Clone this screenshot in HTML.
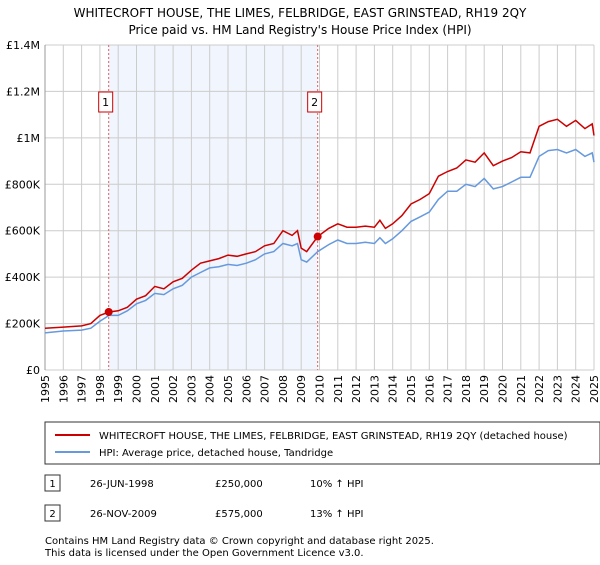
<!DOCTYPE html>
<html><head><meta charset="utf-8"><style>
body{margin:0;width:600px;height:560px;background:#fff;font-family:"Liberation Sans","DejaVu Sans",sans-serif;overflow:hidden}
svg text{font-family:"DejaVu Sans","Liberation Sans",sans-serif}
</style></head><body>
<svg id="c" width="600" height="560">
<text x="300" y="17" text-anchor="middle" font-size="12">WHITECROFT HOUSE, THE LIMES, FELBRIDGE, EAST GRINSTEAD, RH19 2QY</text>
<text x="300" y="34" text-anchor="middle" font-size="12">Price paid vs. HM Land Registry's House Price Index (HPI)</text>
<g id="plot"></g>
<rect x="45" y="422" width="555" height="42" fill="#fff" stroke="#333"/>
<line x1="55" y1="435" x2="90" y2="435" stroke="#cc0000" stroke-width="2"/>
<text x="99" y="439" font-size="10">WHITECROFT HOUSE, THE LIMES, FELBRIDGE, EAST GRINSTEAD, RH19 2QY (detached house)</text>
<line x1="55" y1="452" x2="90" y2="452" stroke="#6699dd" stroke-width="2"/>
<text x="99" y="456" font-size="10">HPI: Average price, detached house, Tandridge</text>
<g>
<rect x="45" y="475" width="15" height="16" fill="#fff" stroke="#333"/><text x="52.5" y="487" font-size="10" text-anchor="middle">1</text>
<text x="90" y="487" font-size="10">26-JUN-1998</text><text x="215" y="487" font-size="10">£250,000</text><text x="310" y="487" font-size="10">10% ↑ HPI</text></g>
<g>
<rect x="45" y="505" width="15" height="16" fill="#fff" stroke="#333"/><text x="52.5" y="517" font-size="10" text-anchor="middle">2</text>
<text x="90" y="517" font-size="10">26-NOV-2009</text><text x="215" y="517" font-size="10">£575,000</text><text x="310" y="517" font-size="10">13% ↑ HPI</text></g>
<text x="45" y="544" font-size="10">Contains HM Land Registry data © Crown copyright and database right 2025.</text>
<text x="45" y="556" font-size="10">This data is licensed under the Open Government Licence v3.0.</text>
</svg>
<script>
const yTicks=[0,200000,400000,600000,800000,1000000,1200000,1400000];
const yTickLabels=["£0","£200K","£400K","£600K","£800K","£1M","£1.2M","£1.4M"];
const years=[1995,1996,1997,1998,1999,2000,2001,2002,2003,2004,2005,2006,2007,2008,2009,2010,2011,2012,2013,2014,2015,2016,2017,2018,2019,2020,2021,2022,2023,2024,2025];
const tDates=[1995,1996,1997,1997.5,1998,1998.5,1999,1999.5,2000,2000.5,2001,2001.5,2002,2002.5,2003,2003.5,2004,2004.5,2005,2005.5,2006,2006.5,2007,2007.5,2008,2008.5,2008.8,2009,2009.3,2009.9,2010.5,2011,2011.5,2012,2012.5,2013,2013.3,2013.6,2014,2014.5,2015,2015.5,2016,2016.5,2017,2017.5,2018,2018.5,2019,2019.5,2020,2020.5,2021,2021.5,2022,2022.5,2023,2023.5,2024,2024.5,2024.9,2025];
const hpiValues=[160,168,172,180,210,235,235,255,285,300,330,325,350,365,400,420,440,445,455,450,460,475,500,510,545,535,545,475,465,510,540,560,545,545,550,545,570,545,565,600,640,660,680,735,770,770,800,790,825,780,790,810,830,830,920,945,950,935,950,920,935,895].map(v=>v*1000);
const propValues=[180,185,190,200,235,250,255,270,305,320,360,350,380,395,430,460,470,480,495,490,500,510,535,545,600,580,600,525,510,575,610,630,615,615,620,615,645,610,630,665,715,735,760,835,855,870,905,895,935,880,900,915,940,935,1050,1070,1080,1050,1075,1040,1060,1010].map(v=>v*1000);
const saleDates=[1998.48,2009.9];
const salePrices=[250000,575000];
const saleLabels=["1","2"];
const NS="http://www.w3.org/2000/svg";
const X0=45,X1=594,Y0=370,Y1=45;
const xs=t=>X0+(t-1995)/(2025-1995)*(X1-X0);
const ys=v=>Y0-v/1400000*(Y0-Y1);
const g=document.getElementById('plot');
function mk(tag,a){const e=document.createElementNS(NS,tag);for(const k in a)e.setAttribute(k,a[k]);g.appendChild(e);return e;}
let sh=mk('rect',{x:xs(saleDates[0]),y:Y1,width:xs(saleDates[1])-xs(saleDates[0]),height:Y0-Y1,fill:'#eef3fd',opacity:0.8});


years.forEach((yr,i)=>{
 let l=mk('line',{x1:xs(yr),x2:xs(yr),y1:Y1,y2:Y0,stroke:'#cccccc','stroke-width':1});
 
 
 let x=xs(yr);
 let t=mk('text',{x:x+4,y:Y0+5,'font-size':11,transform:`rotate(-90 ${x+4} ${Y0+5})`,'text-anchor':'end'});
 t.textContent=yr;
 
 
});
yTicks.forEach((v,i)=>{
 let l=mk('line',{x1:X0,x2:X1,y1:ys(v),y2:ys(v),stroke:'#cccccc','stroke-width':1});
 
 
 let t=mk('text',{x:X0-5,y:ys(v)+4,'font-size':11,'text-anchor':'end'});
 t.textContent=yTickLabels[i];
 
 
});
let ax=mk('line',{x1:X0,x2:X0,y1:Y1,y2:Y0,stroke:'#999'});


saleDates.forEach((d,i)=>{
 let l=mk('line',{x1:xs(d),x2:xs(d),y1:Y1,y2:Y0,stroke:'#e06060','stroke-dasharray':'2,2','stroke-width':1});
 
 
 let bx=xs(d)-6-(i==0?3:3);
 let r=mk('rect',{x:bx-1,y:92,width:14,height:20,fill:'#fff',stroke:'#cc0000'});
 
 
 let t=mk('text',{x:bx+6,y:106,'font-size':11,'text-anchor':'middle'});
 t.textContent=saleLabels[i];
 
 
});
function line(vals,col,name){
 let d=tDates.map((t,i)=>(i?'L':'M')+xs(t).toFixed(1)+','+ys(vals[i]).toFixed(1)).join('');
 let p=mk('path',{d:d,fill:'none',stroke:col,'stroke-width':1.5});
 
 
}
line(hpiValues,'#6699dd','hpi-line');
line(propValues,'#cc0000','property-line');
saleDates.forEach((d,i)=>{
 let c=mk('circle',{cx:xs(d),cy:ys(salePrices[i]),r:4,fill:'#cc0000'});
 
 
});
</script>
</body></html>
